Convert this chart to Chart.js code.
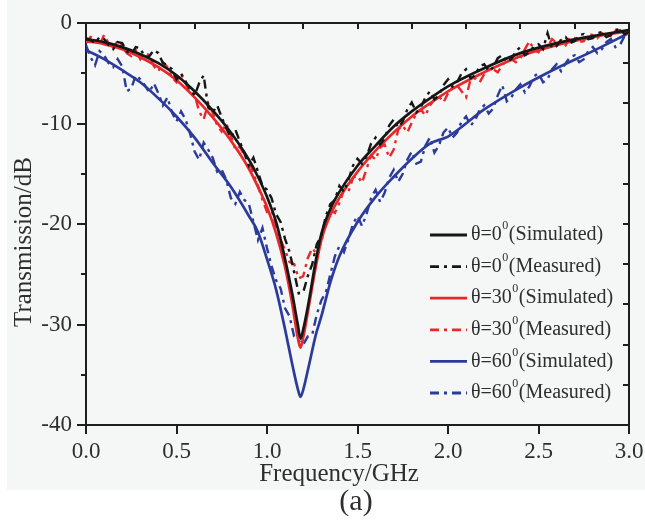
<!DOCTYPE html>
<html>
<head>
<meta charset="utf-8">
<script src="https://cdn.jsdelivr.net/npm/chart.js@4.4.1/dist/chart.umd.min.js"></script>
<style>
    html, body { margin: 0; padding: 0; background: #ffffff; }
    #wrap { width: 645px; height: 529px; }
</style>
</head>
<body>
<div id="wrap"><canvas id="chart" width="645" height="529"></canvas></div>
<script>
// frequencies (GHz) for the simulated curves
const SIM_FREQ = [0, 0.1, 0.2, 0.3, 0.4, 0.5, 0.6, 0.7, 0.8, 0.9, 0.95, 1.0, 1.05, 1.1, 1.14, 1.17, 1.185, 1.2,
    1.23, 1.27, 1.3, 1.35, 1.4, 1.5, 1.6, 1.7, 1.8, 1.9, 2.0, 2.2, 2.4, 2.6, 2.8, 3.0];

const SIM_0 = [-1.6, -1.9, -2.4, -3.1, -4.0, -5.2, -6.8, -8.7, -10.9, -13.6, -15.3, -17.3, -19.8, -23.5, -27.0, -30.0, -31.4, -30.5,
    -27.8, -23.6, -21.0, -18.5, -16.8, -14.2, -12.2, -10.3, -8.8, -7.5, -6.3, -4.5, -3.0, -2.0, -1.3, -0.7];
const SIM_30 = [-1.8, -2.1, -2.6, -3.4, -4.4, -5.7, -7.4, -9.4, -11.7, -14.5, -16.3, -18.3, -20.9, -24.3, -28.0, -31.3, -32.3, -31.3,
    -28.3, -24.2, -21.6, -19.1, -17.4, -14.8, -12.7, -10.9, -9.3, -8.0, -6.8, -4.9, -3.3, -2.2, -1.4, -0.8];
const SIM_60 = [-2.7, -3.6, -4.7, -5.9, -7.5, -9.3, -11.4, -13.9, -16.3, -19.2, -20.8, -23.5, -26.5, -30.5, -34.0, -36.4, -37.2, -36.5,
    -34.2, -31.0, -29.2, -25.8, -23.2, -19.8, -17.3, -15.3, -13.5, -12.0, -11.3, -8.6, -6.4, -4.5, -2.8, -1.0];

// frequencies (GHz) for the measured curves
const MEAS_FREQ = [
    0.000, 0.025, 0.050, 0.075, 0.100, 0.125, 0.150, 0.175, 0.200, 0.225, 0.250, 0.275, 0.300, 0.325, 0.350, 0.375,
    0.400, 0.425, 0.450, 0.475, 0.500, 0.525, 0.550, 0.575, 0.600, 0.625, 0.650, 0.675, 0.700, 0.725, 0.750, 0.775,
    0.800, 0.825, 0.850, 0.875, 0.900, 0.925, 0.950, 0.975, 1.000, 1.025, 1.050, 1.075, 1.100, 1.125, 1.150, 1.175,
    1.200, 1.225, 1.250, 1.275, 1.300, 1.325, 1.350, 1.375, 1.400, 1.425, 1.450, 1.475, 1.500, 1.525, 1.550, 1.575,
    1.600, 1.625, 1.650, 1.675, 1.700, 1.725, 1.750, 1.775, 1.800, 1.825, 1.850, 1.875, 1.900, 1.925, 1.950, 1.975,
    2.000, 2.025, 2.050, 2.075, 2.100, 2.125, 2.150, 2.175, 2.200, 2.225, 2.250, 2.275, 2.300, 2.325, 2.350, 2.375,
    2.400, 2.425, 2.450, 2.475, 2.500, 2.525, 2.550, 2.575, 2.600, 2.625, 2.650, 2.675, 2.700, 2.725, 2.750, 2.775,
    2.800, 2.825, 2.850, 2.875, 2.900, 2.925, 2.950, 2.975, 3.000];

const MEAS_0 = [
    -1.5, -1.7, -2.0, -1.4, -1.6, -2.2, -2.6, -1.9, -2.0, -2.8, -3.1, -2.4, -2.5, -3.4, -3.3, -2.7,
    -3.0, -4.0, -4.2, -4.6, -5.6, -5.0, -5.8, -6.6, -7.2, -6.0, -5.2, -8.4, -8.9, -8.2, -9.4, -10.5,
    -11.4, -10.6, -11.8, -13.0, -14.2, -13.4, -14.8, -16.2, -16.6, -17.4, -19.0, -19.8, -21.5, -22.8, -24.8, -26.9,
    -26.8, -25.2, -24.0, -22.0, -21.2, -19.2, -18.0, -17.6, -16.2, -16.8, -15.6, -14.2, -13.5, -14.0, -13.3, -12.0,
    -11.4, -12.1, -11.5, -10.2, -9.6, -10.4, -9.8, -8.6, -7.9, -8.9, -8.4, -7.4, -6.8, -7.6, -7.2, -6.2,
    -5.6, -6.3, -5.9, -5.0, -4.6, -5.5, -5.2, -4.3, -4.1, -4.8, -4.4, -3.5, -3.2, -3.9, -3.6, -2.8,
    -2.4, -3.2, -2.9, -2.3, -2.1, -2.6, -1.0, -2.5, -2.3, -1.7, -1.4, -2.0, -1.8, -1.2, -1.1, -1.6,
    -1.5, -1.0, -0.9, -1.4, -1.2, -0.7, -0.6, -1.1, -0.9];
const MEAS_30 = [
    -2.0, -1.4, -1.6, -2.2, -1.2, -2.0, -2.4, -1.8, -2.2, -3.0, -3.3, -2.7, -3.6, -3.0, -3.2, -4.3,
    -4.8, -3.9, -4.4, -5.4, -5.9, -5.1, -6.0, -6.9, -7.1, -8.8, -9.6, -8.0, -8.9, -10.2, -10.8, -10.0,
    -11.2, -12.6, -12.3, -13.2, -13.6, -15.0, -16.2, -17.6, -18.8, -18.6, -20.2, -21.6, -22.6, -23.8, -24.0, -25.4,
    -25.2, -23.4, -22.4, -23.0, -21.8, -19.6, -18.6, -18.9, -17.9, -16.6, -16.8, -15.4, -15.2, -15.9, -14.5, -13.2,
    -13.6, -12.4, -12.1, -13.4, -12.6, -10.6, -10.2, -10.9, -9.9, -9.0, -8.6, -9.2, -8.2, -7.6, -7.3, -7.9,
    -7.0, -6.4, -6.2, -6.8, -7.4, -5.6, -5.5, -5.9, -5.1, -4.5, -4.6, -4.9, -4.2, -3.7, -3.6, -3.9,
    -3.5, -2.6, -1.8, -2.7, -2.9, -2.2, -2.4, -1.6, -2.0, -1.7, -2.2, -1.4, -1.5, -1.9, -1.8, -1.1,
    -1.2, -1.5, -1.0, -1.3, -1.3, -0.8, -0.7, -1.1, -1.0];
const MEAS_60 = [
    -2.2, -3.4, -4.2, -2.8, -3.2, -4.0, -4.4, -3.6, -4.3, -6.8, -6.5, -5.2, -5.6, -6.2, -6.9, -6.0,
    -7.0, -8.2, -7.4, -8.9, -9.8, -8.8, -9.6, -11.0, -12.8, -13.6, -11.9, -12.6, -13.4, -14.8, -14.6, -15.6,
    -17.4, -18.0, -16.8, -17.6, -18.0, -19.8, -21.6, -20.4, -22.4, -24.2, -25.6, -26.4, -28.4, -29.2, -31.2, -31.6,
    -32.0, -31.2, -31.0, -29.0, -27.6, -26.8, -25.0, -23.2, -22.2, -22.8, -21.5, -20.0, -19.2, -20.2, -19.0, -17.4,
    -16.6, -17.8, -16.9, -15.4, -14.6, -15.8, -15.0, -13.6, -12.8, -14.0, -13.8, -12.2, -11.4, -12.9, -12.2, -10.9,
    -10.4, -11.4, -10.9, -9.8, -9.3, -10.2, -9.7, -8.6, -8.2, -9.0, -8.5, -7.2, -6.2, -7.8, -7.4, -6.6,
    -6.1, -6.9, -6.3, -5.3, -5.0, -5.9, -5.6, -4.6, -4.1, -4.8, -4.0, -3.4, -3.2, -3.9, -3.6, -2.8,
    -2.4, -3.0, -2.6, -1.9, -1.6, -2.4, -2.2, -1.3, -1.2];

const ANGLES = ['0', '0', '30', '30', '60', '60'];
const KINDS = ['Simulated', 'Measured', 'Simulated', 'Measured', 'Simulated', 'Measured'];

const SERIF = '"Liberation Serif", "Times New Roman", serif';
const TEXT_COLOR = '#2e2e2e';
const AXIS_COLOR = '#1e1e1e';
const BLACK = '#161616';
const RED = '#e8282b';
const BLUE = '#2b3b9b';
const DASH_DOT = [9, 5, 3, 5];

function points(xs, ys) {
    return xs.map((x, i) => ({ x: x, y: ys[i] }));
}

function simSet(label, data, color) {
    return {
        label: label,
        data: points(SIM_FREQ, data),
        borderColor: color,
        borderWidth: 2.7,
        pointRadius: 0,
        cubicInterpolationMode: 'monotone',
        fill: false
    };
}

function measSet(label, data, color) {
    return {
        label: label,
        data: points(MEAS_FREQ, data),
        borderColor: color,
        borderWidth: 2.4,
        borderDash: DASH_DOT,
        pointRadius: 0,
        tension: 0,
        fill: false
    };
}

// no label overhang padding, so the plot box sits where the axes say
function fixBox(width, height) {
    return s => {
        if (width !== null) s.width = width;
        if (height !== null) s.height = height;
        s.paddingLeft = 0;
        s.paddingRight = 0;
        s.paddingTop = 0;
        s.paddingBottom = 0;
    };
}

const background = {
    id: 'background',
    beforeDraw(chart) {
        const ctx = chart.ctx;
        ctx.save();
        ctx.fillStyle = '#ffffff';
        ctx.fillRect(0, 0, chart.width, chart.height);
        ctx.fillStyle = '#f5f6f6';
        ctx.fillRect(7, 0, chart.width - 7, 490);
        ctx.restore();
    }
};

// ticks: left/bottom point out, top/right point in
const tickMarks = {
    id: 'tickMarks',
    afterDraw(chart) {
        const { ctx, chartArea: a, scales } = chart;
        ctx.save();
        ctx.strokeStyle = AXIS_COLOR;
        ctx.lineWidth = 2;
        ctx.beginPath();
        scales.y.ticks.forEach(t => {
            const y = Math.round(scales.y.getPixelForValue(t.value));
            const len = t.value % 10 === 0 ? 9 : 5;
            ctx.moveTo(a.left - len, y);
            ctx.lineTo(a.left, y);
        });
        scales.x.ticks.forEach(t => {
            const x = Math.round(scales.x.getPixelForValue(t.value));
            ctx.moveTo(x, a.bottom);
            ctx.lineTo(x, a.bottom + 9);
        });
        scales.x2.ticks.forEach(t => {
            const x = Math.round(scales.x2.getPixelForValue(t.value));
            ctx.moveTo(x, a.top);
            ctx.lineTo(x, a.top + 6);
        });
        scales.y2.ticks.forEach(t => {
            const y = Math.round(scales.y2.getPixelForValue(t.value));
            ctx.moveTo(a.right, y);
            ctx.lineTo(a.right - 6, y);
        });
        ctx.stroke();
        ctx.restore();
    }
};

const legendBox = {
    id: 'legendBox',
    afterDraw(chart) {
        const ctx = chart.ctx;
        ctx.save();
        chart.data.datasets.forEach((ds, i) => {
            const y = 235 + i * 31.6;
            ctx.strokeStyle = ds.borderColor;
            ctx.lineWidth = 2.8;
            ctx.setLineDash(ds.borderDash || []);
            ctx.beginPath();
            ctx.moveTo(430, y);
            ctx.lineTo(467, y);
            ctx.stroke();

            ctx.setLineDash([]);
            ctx.fillStyle = TEXT_COLOR;
            ctx.textBaseline = 'middle';
            ctx.textAlign = 'left';
            ctx.font = '20px ' + SERIF;
            let x = 471;
            const head = '\u03b8=' + ANGLES[i];
            ctx.fillText(head, x, y);
            x += ctx.measureText(head).width + 0.5;
            ctx.font = '12px ' + SERIF;
            ctx.fillText('0', x, y - 9);
            x += ctx.measureText('0').width + 0.5;
            ctx.font = '20px ' + SERIF;
            ctx.fillText('(' + KINDS[i] + ')', x, y);
        });
        ctx.restore();
    }
};

// axis titles and the panel caption sit a bit off the plot centre in the original
const captions = {
    id: 'captions',
    afterDraw(chart) {
        const ctx = chart.ctx;
        ctx.save();
        ctx.fillStyle = TEXT_COLOR;
        ctx.textAlign = 'center';
        ctx.textBaseline = 'middle';
        ctx.font = '25px ' + SERIF;
        ctx.fillText('Frequency/GHz', 339, 474);
        ctx.save();
        ctx.translate(24, 242);
        ctx.rotate(-Math.PI / 2);
        ctx.fillText('Transmission/dB', 0, 0);
        ctx.restore();
        ctx.font = '30px ' + SERIF;
        ctx.fillText('(a)', 356, 502);
        ctx.restore();
    }
};

function createChart() {
    const ctx = document.getElementById('chart');
    const tickFont = { family: SERIF, size: 23 };
    const border = { display: true, color: AXIS_COLOR, width: 2 };
    const noGrid = { display: false, drawTicks: false };

    return new Chart(ctx, {
        type: 'line',
        data: {
            datasets: [
                simSet('\u03b8=0(Simulated)', SIM_0, BLACK),
                measSet('\u03b8=0(Measured)', MEAS_0, BLACK),
                simSet('\u03b8=30(Simulated)', SIM_30, RED),
                measSet('\u03b8=30(Measured)', MEAS_30, RED),
                simSet('\u03b8=60(Simulated)', SIM_60, BLUE),
                measSet('\u03b8=60(Measured)', MEAS_60, BLUE)
            ]
        },
        options: {
            responsive: false,
            animation: false,
            devicePixelRatio: 1,
            layout: { padding: 0 },
            plugins: {
                legend: { display: false },
                tooltip: { enabled: false }
            },
            scales: {
                x: {
                    type: 'linear',
                    position: 'bottom',
                    min: 0,
                    max: 3,
                    grid: noGrid,
                    border: border,
                    ticks: {
                        stepSize: 0.5,
                        padding: 13,
                        maxRotation: 0,
                        autoSkip: false,
                        color: TEXT_COLOR,
                        font: tickFont,
                        callback: v => v.toFixed(1)
                    },
                    afterFit: fixBox(null, 104)
                },
                x2: {
                    type: 'linear',
                    position: 'top',
                    min: 0,
                    max: 3,
                    grid: noGrid,
                    border: border,
                    ticks: { display: false, stepSize: 0.3 },
                    afterFit: fixBox(null, 23)
                },
                y: {
                    position: 'left',
                    min: -40,
                    max: 0,
                    grid: noGrid,
                    border: border,
                    ticks: {
                        stepSize: 5,
                        padding: 14,
                        color: TEXT_COLOR,
                        font: tickFont,
                        callback: v => (v % 10 === 0 ? String(v) : '')
                    },
                    afterFit: fixBox(86, null)
                },
                y2: {
                    position: 'right',
                    min: -40,
                    max: 0,
                    grid: noGrid,
                    border: border,
                    ticks: { display: false, stepSize: 4 },
                    afterFit: fixBox(16, null)
                }
            }
        },
        plugins: [background, tickMarks, legendBox, captions]
    });
}

createChart();
</script>
</body>
</html>
